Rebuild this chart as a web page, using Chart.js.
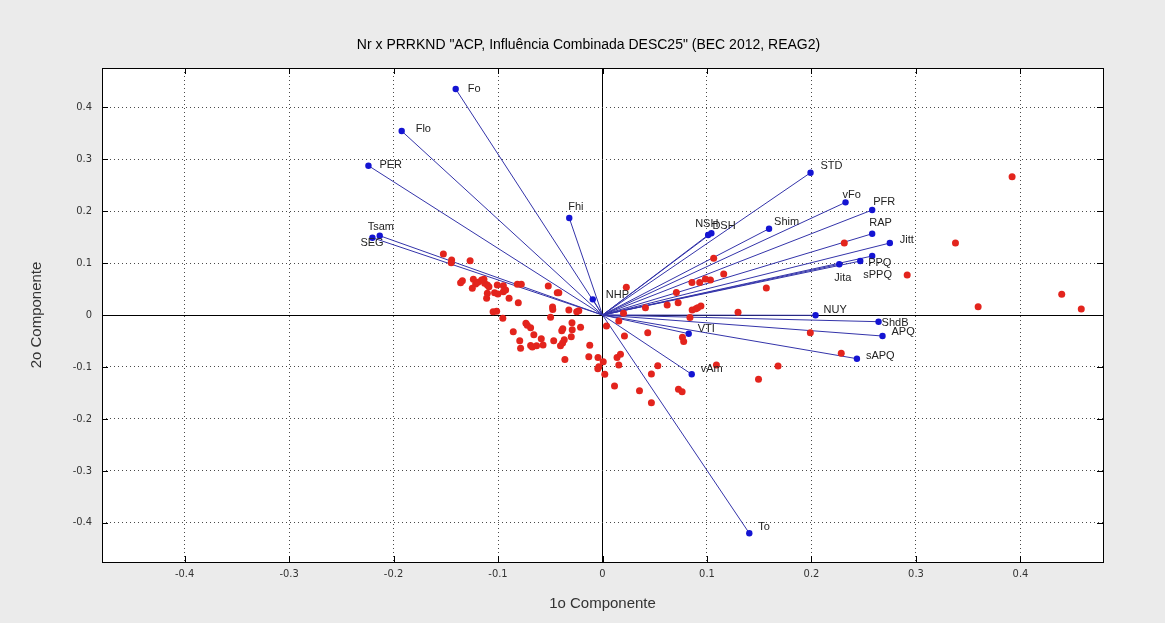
<!DOCTYPE html>
<html>
<head>
<meta charset="utf-8">
<title>ACP - Influência Combinada DESC25</title>
<script src="https://cdn.jsdelivr.net/npm/chart.js@4/dist/chart.umd.min.js"></script>
<style>
  html, body { margin: 0; padding: 0; background: #ebebeb; }
  #wrap { width: 1165px; height: 623px; }
</style>
</head>
<body>
<div id="wrap"><canvas id="chart" width="1165" height="623"></canvas></div>
<script>
const chartTitle = 'Nr x PRRKND "ACP, Influência Combinada DESC25" (BEC 2012, REAG2)';

// descriptor loadings (1o / 2o componente)
const descNames = ["Fo", "Flo", "PER", "Tsam", "SEG", "Fhi", "NHP", "NSH", "DSH", "STD",
  "vFo", "PFR", "Shim", "RAP", "Jitt", "PPQ", "sPPQ", "Jita", "NUY", "ShdB",
  "APQ", "sAPQ", "VTI", "vAm", "To"];
const descX = [-0.1405, -0.1922, -0.2240, -0.2132, -0.2202, -0.0318, -0.0093, 0.1011, 0.1042, 0.1991,
  0.2326, 0.2581, 0.1594, 0.2581, 0.2750, 0.2581, 0.2467, 0.2266, 0.2039, 0.2642,
  0.2680, 0.2435, 0.0825, 0.0854, 0.1405];
const descY = [0.4355, 0.3545, 0.2877, 0.1528, 0.1489, 0.1869, 0.0302, 0.1541, 0.1574, 0.2742,
  0.2171, 0.2023, 0.1663, 0.1566, 0.1387, 0.1137, 0.1040, 0.0977, -0.0006, -0.0129,
  -0.0405, -0.0842, -0.0360, -0.1143, -0.4206];

// sample scores
const scoreX = [-0.1523, -0.1444, -0.1448, -0.1267, -0.1341, -0.1358, -0.1236, -0.1214, -0.1246, -0.1192,
  -0.1157, -0.1128, -0.1135, -0.1102, -0.1087, -0.1007, -0.0949, -0.1102, -0.1109, -0.1033,
  -0.1001, -0.0949, -0.0927, -0.0894, -0.0815, -0.0777, -0.0806, -0.1047, -0.1013, -0.0954,
  -0.0519, -0.0433, -0.0418, -0.0478, -0.0476, -0.0322, -0.0247, -0.0227, -0.0497, -0.0854,
  -0.0733, -0.0720, -0.0688, -0.0657, -0.0792, -0.0784, -0.0688, -0.0672, -0.0631, -0.0586,
  -0.0569, -0.0467, -0.0390, -0.0380, -0.0366, -0.0382, -0.0402, -0.0292, -0.0290, -0.0299,
  -0.0210, -0.0360, -0.0122, -0.0131, -0.0043, 0.0007, -0.0035, -0.0045, 0.0022, 0.0115,
  0.0038, 0.0156, 0.0210, 0.0139, 0.0156, 0.0228, 0.0201, 0.0411, 0.0433, 0.0619,
  0.0724, 0.0707, 0.0856, 0.0930, 0.0985, 0.1033, 0.0858, 0.0894, 0.0911, 0.0942,
  0.0837, 0.0765, 0.0777, 0.1064, 0.1160, 0.1568, 0.2314, 0.1297, 0.1989, 0.2285,
  0.1090, 0.1680, 0.1493, 0.0727, 0.0762, 0.0468, 0.0529, 0.0354, 0.0468, 0.0172,
  0.2916, 0.3378, 0.3920, 0.3595, 0.4395, 0.4582];
const scoreY = [0.1175, 0.1060, 0.1008, 0.1046, 0.0661, 0.0622, 0.0688, 0.0597, 0.0514, 0.0630,
  0.0674, 0.0611, 0.0688, 0.0578, 0.0545, 0.0578, 0.0565, 0.0418, 0.0322, 0.0430,
  0.0405, 0.0449, 0.0482, 0.0322, 0.0593, 0.0592, 0.0237, 0.0064, 0.0073, -0.0064,
  0.0559, 0.0430, 0.0430, 0.0154, 0.0106, 0.0096, 0.0062, 0.0081, -0.0044, -0.0322,
  -0.0160, -0.0198, -0.0245, -0.0380, -0.0497, -0.0642, -0.0588, -0.0617, -0.0593, -0.0459,
  -0.0578, -0.0497, -0.0304, -0.0266, -0.0476, -0.0540, -0.0593, -0.0148, -0.0283, -0.0418,
  -0.0237, -0.0857, -0.0582, -0.0803, -0.0819, -0.0900, -0.0996, -0.1037, -0.1143, -0.1368,
  -0.0212, -0.0116, -0.0405, -0.0819, -0.0963, 0.0534, 0.0033, 0.0141, -0.0341, 0.0193,
  0.0237, 0.0434, 0.0626, 0.0626, 0.0694, 0.0674, 0.0096, 0.0119, 0.0141, 0.0173,
  -0.0048, -0.0430, -0.0511, 0.1092, 0.0790, 0.0520, 0.1387, 0.0052, -0.0341, -0.0738,
  -0.0963, -0.0983, -0.1237, -0.1432, -0.1478, -0.1137, -0.0977, -0.1459, -0.1690, -0.0757,
  0.0771, 0.1387, 0.2665, 0.0160, 0.0399, 0.0116];

const xTicks = [-0.4, -0.3, -0.2, -0.1, 0, 0.1, 0.2, 0.3, 0.4];
const yTicks = [-0.4, -0.3, -0.2, -0.1, 0, 0.1, 0.2, 0.3, 0.4];

// where each descriptor name sits relative to its dot (px)
const labelShift = {
  Fo: [12, 0], Flo: [14, -2], PER: [11, -1], Fhi: [-1, -11], Tsam: [-12, -9], SEG: [-12, 5],
  NHP: [13, -4], NSH: [-13, -11], DSH: [1, -7], STD: [10, -7], vFo: [-3, -7], PFR: [1, -8],
  Shim: [5, -7], RAP: [-3, -11], Jitt: [10, -3], PPQ: [-4, 7], sPPQ: [3, 14], Jita: [-5, 14],
  NUY: [8, -5], ShdB: [3, 1], APQ: [9, -4], sAPQ: [9, -3], VTI: [9, -5], vAm: [9, -5], To: [9, -6]
};

const tickFont = { family: '"Liberation Sans Narrow", "DejaVu Sans Condensed", "Liberation Sans", Arial', size: 11 };

const datasets = [];
datasets.push({
  label: "amostras",
  data: scoreX.map((x, i) => ({ x: x, y: scoreY[i] })),
  backgroundColor: "#e3241d",
  borderWidth: 0,
  pointRadius: 3.5,
  order: 0
});
datasets.push({
  label: "descritores",
  data: descX.map((x, i) => ({ x: x, y: descY[i] })),
  backgroundColor: "#1414d2",
  borderWidth: 0,
  pointRadius: 3.2,
  order: 1
});
descNames.forEach((n, i) => {
  datasets.push({
    label: n,
    data: [{ x: 0, y: 0 }, { x: descX[i], y: descY[i] }],
    showLine: true,
    borderColor: "#3434aa",
    borderWidth: 1,
    pointRadius: 0,
    order: 2
  });
});

// background, title, plot frame, inward tick marks and descriptor names
const figurePlugin = {
  id: "figure",
  beforeDraw(chart) {
    const { ctx, chartArea: a } = chart;
    ctx.save();
    ctx.fillStyle = "#ebebeb";
    ctx.fillRect(0, 0, chart.width, chart.height);
    ctx.fillStyle = "#ffffff";
    ctx.fillRect(a.left, a.top, a.right - a.left, a.bottom - a.top);
    ctx.restore();
  },
  afterDatasetsDraw(chart) {
    const { ctx } = chart;
    const sx = chart.scales.x, sy = chart.scales.y;
    ctx.save();
    ctx.font = '11px "Liberation Sans", Arial';
    ctx.fillStyle = "#222";
    ctx.textBaseline = "middle";
    descNames.forEach((n, i) => {
      const off = labelShift[n] || [8, 0];
      ctx.fillText(n, sx.getPixelForValue(descX[i]) + off[0], sy.getPixelForValue(descY[i]) + off[1]);
    });
    ctx.restore();
  },
  afterDraw(chart) {
    const { ctx, chartArea: a } = chart;
    const sx = chart.scales.x, sy = chart.scales.y;
    const len = 6;
    ctx.save();
    ctx.strokeStyle = "#000";
    ctx.lineWidth = 1;
    ctx.beginPath();
    xTicks.forEach(v => {
      const p = Math.round(sx.getPixelForValue(v)) + 0.5;
      ctx.moveTo(p, a.bottom); ctx.lineTo(p, a.bottom - len);
      ctx.moveTo(p, a.top); ctx.lineTo(p, a.top + len);
    });
    yTicks.forEach(v => {
      const p = Math.round(sy.getPixelForValue(v)) + 0.5;
      ctx.moveTo(a.left, p); ctx.lineTo(a.left + len, p);
      ctx.moveTo(a.right, p); ctx.lineTo(a.right - len, p);
    });
    ctx.stroke();
    ctx.strokeRect(Math.round(a.left) + 0.5, Math.round(a.top) + 0.5,
      Math.round(a.right - a.left), Math.round(a.bottom - a.top));

    // title, centred a little right of the canvas middle
    ctx.font = '14px "Liberation Sans", Arial';
    ctx.fillStyle = "#000";
    ctx.textAlign = "center";
    ctx.textBaseline = "middle";
    ctx.fillText(chartTitle, (a.left + a.right) / 2 - 14, 45);
    ctx.restore();
  }
};

function gridColor(c) {
  return c.tick && c.tick.value === 0 ? "#000000" : "#4a4a4a";
}
function gridDash(c) {
  return c.tick && c.tick.value === 0 ? [] : [1, 3];
}
function tickText(v) {
  return v === 0 ? "0" : v.toFixed(1);
}

new Chart(document.getElementById("chart"), {
  type: "scatter",
  data: { datasets: datasets },
  plugins: [figurePlugin],
  options: {
    responsive: false,
    animation: false,
    events: [],
    layout: { padding: { left: 0, right: 62, top: 68, bottom: 0 } },
    plugins: {
      legend: { display: false },
      tooltip: { enabled: false },
      title: { display: false }
    },
    scales: {
      x: {
        type: "linear",
        min: -0.479,
        max: 0.479,
        afterBuildTicks: s => { s.ticks = xTicks.map(v => ({ value: v })); },
        afterFit: s => { s.height = 61; },
        grid: { color: gridColor, lineWidth: 1, drawTicks: false },
        border: { display: false, dash: gridDash },
        ticks: { callback: tickText, color: "#333", font: tickFont, padding: 6, maxRotation: 0 },
        title: {
          display: true,
          text: "1o Componente",
          color: "#333",
          font: { family: '"Liberation Sans", Arial', size: 15 },
          padding: { top: 0, bottom: 10 }
        }
      },
      y: {
        type: "linear",
        min: -0.476,
        max: 0.476,
        afterBuildTicks: s => { s.ticks = yTicks.map(v => ({ value: v })); },
        afterFit: s => { s.width = 102; },
        grid: { color: gridColor, lineWidth: 1, drawTicks: false },
        border: { display: false, dash: gridDash },
        ticks: { callback: tickText, color: "#333", font: tickFont, padding: 10 },
        title: {
          display: true,
          text: "2o Componente",
          color: "#333",
          font: { family: '"Liberation Sans", Arial', size: 15 },
          padding: { top: 28, bottom: 0 }
        }
      }
    }
  }
});
</script>
</body>
</html>
